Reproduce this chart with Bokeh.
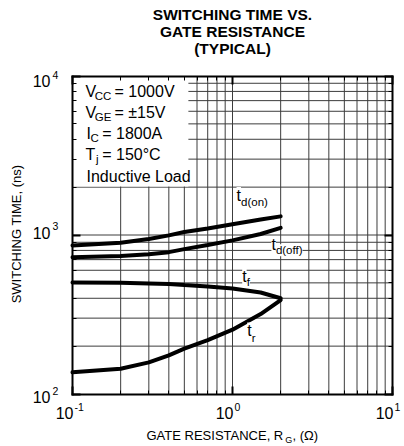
import math
from bokeh.plotting import figure
from bokeh.models import Label, FixedTicker, LogAxis, CustomJSTickFormatter
from bokeh.embed import file_html
from bokeh.resources import INLINE

# ---------------- data ----------------
rg = [0.1, 0.2, 0.3, 0.4, 0.5, 0.7, 1.0, 1.5, 2.0]          # gate resistance (ohm)
td_on = [860, 895, 945, 995, 1045, 1100, 1170, 1250, 1310]  # ns
td_off = [725, 737, 756, 780, 815, 865, 925, 1015, 1110]    # ns
tf = [503, 500, 496, 492, 485, 475, 461, 435, 400]          # ns
tr = [137, 144, 158, 175, 193, 218, 254, 318, 390]          # ns

x_lim = [0.1, 10]
y_lim = [100, 10000]
x_major = [0.1, 1, 10]
x_minor = [m * d for d in (0.1, 1) for m in range(2, 10)]
y_major = [100, 1000, 10000]
y_minor = [m * d for d in (100, 1000) for m in range(2, 10)]
x_tick_exp = ["-1", "0", "1"]
y_tick_exp = ["2", "3", "4"]

title_lines = ["SWITCHING TIME VS.", "GATE RESISTANCE", "(TYPICAL)"]
cond_lines = [("V", "CC", "= 1000V"), ("V", "GE", "= \u00b115V"),
              ("I", "C", "= 1800A"), ("T", "j", "= 150\u00b0C"),
              ("Inductive Load", "", "")]

FONT = "Liberation Sans"

# ------------- layout: the chart box inside a full-canvas frame -------------
W, H = 402, 446
BOX_L, BOX_R, BOX_T, BOX_B = 72.0, 392.0, 75.5, 393.5
xdec = (BOX_R - BOX_L) / (math.log10(x_lim[1]) - math.log10(x_lim[0]))
ydec = (BOX_B - BOX_T) / (math.log10(y_lim[1]) - math.log10(y_lim[0]))
x_start = 10 ** (math.log10(x_lim[0]) - BOX_L / xdec)
x_end = 10 ** (math.log10(x_lim[1]) + (W - BOX_R) / xdec)
y_end = 10 ** (math.log10(y_lim[1]) + BOX_T / ydec)
y_start = 10 ** (math.log10(y_lim[0]) - (H - BOX_B) / ydec)

p = figure(width=W, height=H, x_axis_type="log", y_axis_type="log",
           x_range=(x_start, x_end), y_range=(y_start, y_end),
           x_axis_location=None, y_axis_location=None, title=None,
           output_backend="svg", toolbar_location=None,
           min_border=0, min_border_left=0, min_border_right=0,
           min_border_top=0, min_border_bottom=0)
p.background_fill_color = "white"
p.border_fill_color = "white"
p.outline_line_color = None
for g in p.grid:
    g.visible = False

blank = CustomJSTickFormatter(code="return ''")
xt = FixedTicker(ticks=x_major, minor_ticks=x_minor)
yt = FixedTicker(ticks=y_major, minor_ticks=y_minor)


def make_axis(ticker, loc, bounds):
    ax = LogAxis(ticker=ticker, formatter=blank, fixed_location=loc,
                 bounds=tuple(bounds))
    ax.major_label_text_font_size = "0px"
    ax.major_label_standoff = 0
    ax.axis_line_color = "black"
    ax.axis_line_width = 2
    ax.axis_line_cap = "square"
    ax.major_tick_in = 8
    ax.major_tick_out = 0
    ax.minor_tick_in = 4
    ax.minor_tick_out = 0
    ax.major_tick_line_width = 2
    ax.major_tick_line_color = "black"
    ax.minor_tick_line_color = "black"
    ax.minor_tick_line_width = 1
    return ax


# grid lines (drawn from the tick lists through the log scales)
gx = [v for v in x_major + x_minor if x_lim[0] < v < x_lim[1]]
gy = [v for v in y_major + y_minor if y_lim[0] < v < y_lim[1]]
p.segment(x0=gx, x1=gx, y0=[y_lim[0]] * len(gx), y1=[y_lim[1]] * len(gx),
          line_color="#3c3c3c", line_width=1)
p.segment(x0=[x_lim[0]] * len(gy), x1=[x_lim[1]] * len(gy), y0=gy, y1=gy,
          line_color="#3c3c3c", line_width=1)

# white panel behind the test conditions
p.quad(left=[x_lim[0]], right=[0.53], bottom=[2020], top=[y_lim[1]],
       fill_color="white", line_color=None)

for series in (td_on, td_off, tf, tr):
    p.line(rg, series, line_width=4, line_color="black", line_cap="round")

p.add_layout(make_axis(yt, x_lim[0], y_lim), "left")
p.add_layout(make_axis(yt, x_lim[1], y_lim), "right")
p.add_layout(make_axis(xt, y_lim[0], x_lim), "below")
p.add_layout(make_axis(xt, y_lim[1], x_lim), "above")

BASE_FIX = 0.33  # em: lifts the drawn baseline onto the wanted one


def lab(x, y, text, size, xo=0, yo=0, align="left", bold=False, bg=None,
        angle=0.0):
    fix = BASE_FIX * size
    l = Label(x=x, y=y, text=text,
              text_font=FONT, text_font_size=f"{size}px", text_align=align,
              text_baseline="alphabetic",
              x_offset=xo - fix * math.sin(angle),
              y_offset=yo + fix * math.cos(angle),
              text_color="black", angle=angle,
              text_font_style="bold" if bold else "normal")
    if bg:
        l.background_fill_color = bg
        l.background_fill_alpha = 1.0
    p.add_layout(l)


# title
for i, line in enumerate(title_lines):
    lab(1, y_lim[1], line, 15.5, yo=56.5 - 17 * i, align="center", bold=True)

# tick labels
for v, e in zip(x_major, x_tick_exp):
    lab(v, y_lim[0], "10", 16, xo=1, yo=-24.5, align="right")
    lab(v, y_lim[0], e, 10.5, xo=2, yo=-16.5)
y_lab_off = [-8.5, -3, -10.5]
for v, e, o in zip(y_major, y_tick_exp, y_lab_off):
    lab(x_lim[0], v, "10", 16, xo=-22, yo=o, align="right")
    lab(x_lim[0], v, e, 10.5, xo=-20, yo=o + 8.5)

# axis titles
lab(1, y_lim[0], "GATE RESISTANCE, R", 13, xo=-86, yo=-46)
lab(1, y_lim[0], "G", 9, xo=52.7, yo=-49)
lab(1, y_lim[0], ", (\u03a9)", 13, xo=60, yo=-46)
lab(x_lim[0], 1000, "SWITCHING TIME, (ns)", 13, xo=-52, yo=1,
    align="center", angle=math.pi / 2)

# test conditions
cond_base = [-20.5, -41.5, -62.5, -83.5, -106]
cond_sub_x = [9.2, 9.2, 4.0, 10.5, 0]
cond_rest_x = [29, 29, 16.7, 16.7, 0]
cond_x0 = [13, 13, 14, 13, 14]
for (a, s, r), yo, sx, rx, x0 in zip(cond_lines, cond_base, cond_sub_x,
                                      cond_rest_x, cond_x0):
    lab(x_lim[0], y_lim[1], a, 16, xo=x0, yo=yo)
    if s:
        lab(x_lim[0], y_lim[1], s, 11.5, xo=x0 + sx, yo=yo - 3.5)
    if r:
        lab(x_lim[0], y_lim[1], r, 16, xo=13 + rx, yo=yo)

# curve labels
curve_labels = [("d(on)", 1.06, 1639, -5), ("d(off)", 1.75, 804, -4),
                ("f", 1.15, 505, -3.5), ("r", 1.236, 231, -6)]
for sub, x, y, so in curve_labels:
    lab(x, y, "t", 16, bg="white")
    lab(x, y, sub, 11.5, xo=4.5, yo=so, bg="white")

open("out.html", "w").write(file_html(p, INLINE))
